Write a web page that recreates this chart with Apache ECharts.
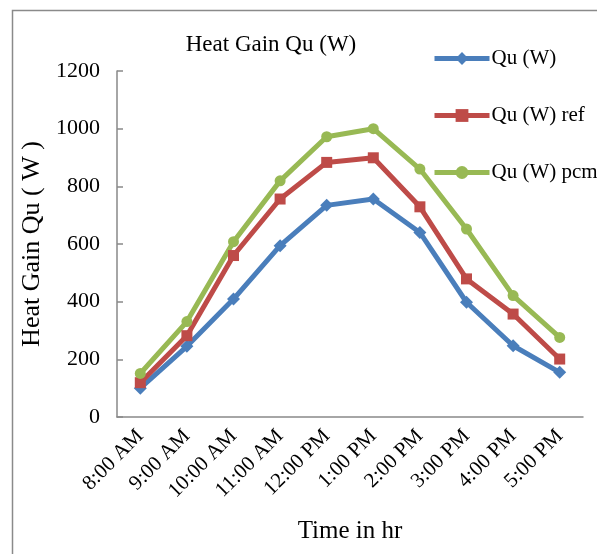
<!DOCTYPE html>
<html>
<head>
<meta charset="utf-8">
<script src="https://cdn.jsdelivr.net/npm/echarts@6/dist/echarts.min.js"></script>
<style>html,body{margin:0;padding:0;background:#fff;}#c{width:597px;height:554px;}</style>
</head>
<body>
<div id="c"></div>
<script>
const categories = ['8:00 AM','9:00 AM','10:00 AM','11:00 AM','12:00 PM','1:00 PM','2:00 PM','3:00 PM','4:00 PM','5:00 PM'];
const quW = [100, 245, 409, 594, 734, 756, 640, 398, 247, 155];
const quRef = [119, 282, 560, 756, 883, 899, 729, 479, 357, 201];
const quPcm = [151, 331, 608, 819, 972, 1000, 860, 652, 421, 276];
const yTicks = [0, 200, 400, 600, 800, 1000, 1200];

const font = 'Liberation Serif, Times New Roman, serif';
const axisColor = '#898989';
const chart = echarts.init(document.getElementById('c'));
chart.setOption({
  animation: false,
  backgroundColor: '#fff',
  title: {
    text: 'Heat Gain Qu (W)',
    left: 266, top: 28, textAlign: 'center',
    textStyle: {fontFamily: font, fontSize: 23, fontWeight: 'normal', color: '#000'}
  },
  graphic: [{
    type: 'rect', left: 10, top: 8, shape: {width: 700, height: 700},
    style: {fill: 'none', stroke: '#8a8a8a', lineWidth: 1.5}, silent: true
  }],
  legend: {
    orient: 'vertical', left: 427, top: 43,
    itemWidth: 55, itemHeight: 16, itemGap: 36,
    lineStyle: {width: 5},
    textStyle: {fontFamily: font, fontSize: 21, color: '#000', lineHeight: 21, padding: [0,0,0,-3]},
    data: ['Qu (W)', 'Qu (W) ref', 'Qu (W) pcm']
  },
  grid: {left: 117, right: 14, top: 71, bottom: 137, containLabel: false},
  xAxis: {
    type: 'category', data: categories, boundaryGap: true,
    name: 'Time in hr', nameLocation: 'middle', nameGap: 102,
    nameTextStyle: {fontFamily: font, fontSize: 25, color: '#000'},
    axisLine: {lineStyle: {color: axisColor, width: 1.5}},
    axisTick: {inside: true, length: 6, interval: 0, lineStyle: {color: axisColor, width: 1.5}},
    axisLabel: {rotate: 45, interval: 0, margin: 16, fontFamily: font, fontSize: 21, color: '#000'}
  },
  yAxis: {
    type: 'value', min: 0, max: 1200, interval: 200,
    name: 'Heat Gain Qu ( W )', nameLocation: 'middle', nameGap: 68, nameRotate: 90,
    nameTextStyle: {fontFamily: font, fontSize: 26, color: '#000'},
    splitLine: {show: false},
    axisLine: {show: true, lineStyle: {color: axisColor, width: 1.5}},
    axisTick: {show: true, inside: true, length: 6, lineStyle: {color: axisColor, width: 1.5}},
    axisLabel: {margin: 17, fontFamily: font, fontSize: 22, color: '#000',
      formatter: v => yTicks.includes(v) ? String(v) : ''}
  },
  series: [
    {name: 'Qu (W)', type: 'line', data: quW, symbol: 'diamond', symbolSize: 13,
     lineStyle: {width: 5, color: '#4A7EBB'}, itemStyle: {color: '#4A7EBB'}},
    {name: 'Qu (W) ref', type: 'line', data: quRef, symbol: 'rect', symbolSize: 11,
     lineStyle: {width: 5, color: '#BE4B48'}, itemStyle: {color: '#BE4B48'}},
    {name: 'Qu (W) pcm', type: 'line', data: quPcm, symbol: 'circle', symbolSize: 11,
     lineStyle: {width: 5, color: '#98B954'}, itemStyle: {color: '#98B954'}}
  ]
});
</script>
</body>
</html>
